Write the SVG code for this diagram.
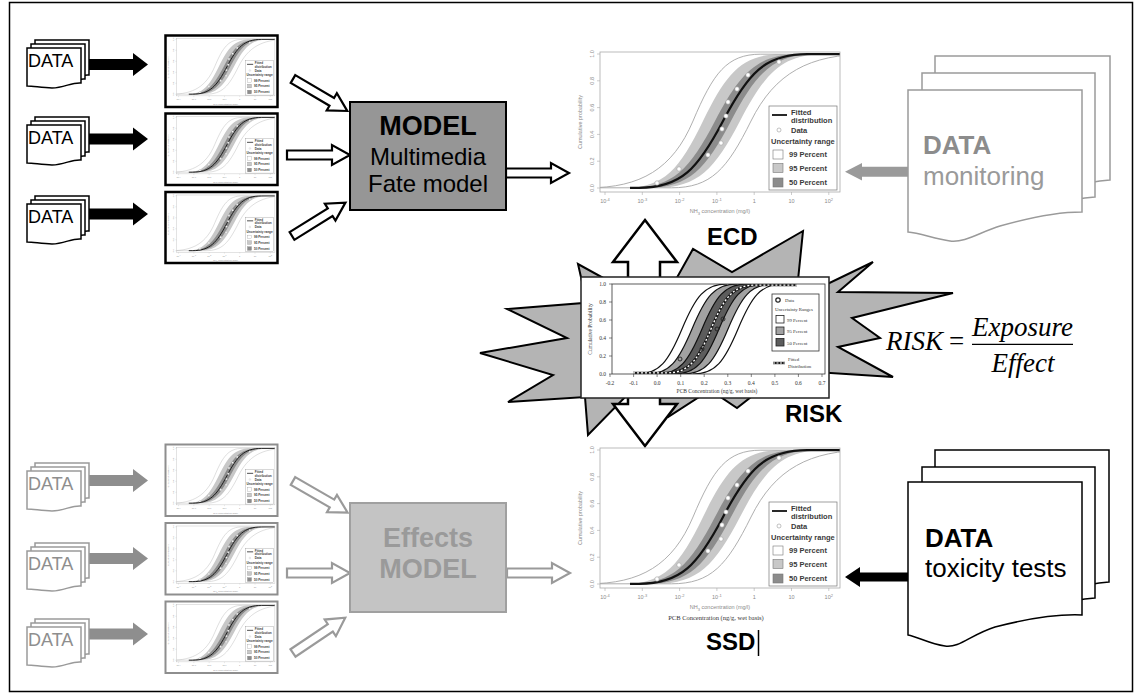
<svg xmlns="http://www.w3.org/2000/svg" width="1141" height="695" viewBox="0 0 1141 695">
<style>
.sans{font-family:"Liberation Sans",Arial,Helvetica,sans-serif}
.serif{font-family:"Liberation Serif","Times New Roman",serif}
.pg{fill:#fff;stroke:#000;stroke-width:1.5}
.pgg{fill:#fff;stroke:#9a9a9a;stroke-width:1.5}
.ax{font-family:"Liberation Sans",Arial,sans-serif;font-size:5.5px;fill:#8a8a8a}
.lg{font-family:"Liberation Sans",Arial,sans-serif;font-size:7.5px;font-weight:bold;fill:#3a3a3a}
.rs{font-family:"Liberation Serif","Times New Roman",serif;font-size:5.5px;fill:#333}
.rl{font-family:"Liberation Serif","Times New Roman",serif;font-size:4.8px;fill:#333}
.ha{fill:#fff;stroke:#000;stroke-width:2.2}
.hag{fill:#fff;stroke:#9a9a9a;stroke-width:2.2}
.fa{fill:#000}
.fag{fill:#8e8e8e}
.big{font-family:"Liberation Sans",Arial,sans-serif;font-weight:bold;font-size:24px;fill:#000}
.dt{font-family:"Liberation Sans",Arial,sans-serif;font-size:18px}
.thb{fill:#fff;stroke:#000;stroke-width:2.5}
.thg{fill:#fff;stroke:#8e8e8e;stroke-width:2}
.fm{font-family:"Liberation Serif","Times New Roman",serif;font-size:27px;fill:#000}
</style>
<defs>
<clipPath id="pc"><rect x="0" y="0" width="240" height="140"/></clipPath>
<clipPath id="rc"><rect x="0" y="0" width="213" height="90"/></clipPath>
<g id="stack">
<path d="M35,40 H89 V75 C80,74 72,80 60,80 C50,80 42,78 35,78 Z"/>
<path d="M31,44 H85 V79 C76,78 68,84 56,84 C46,84 38,82 31,82 Z"/>
<path d="M27,48 H81 V83 C72,82 64,88 52,88 C42,88 34,86 27,86 Z"/>
</g>
<polygon id="fat" points="0,-5.5 44,-5.5 44,-11.5 59,0 44,11.5 44,5.5 0,5.5"/>
<polygon id="hat" points="0,-4.5 45,-4.5 45,-10 63,0 45,10 45,4.5 0,4.5"/>
</defs>

<rect width="1141" height="695" fill="#fff"/>
<rect x="9.5" y="2.5" width="1123" height="689" fill="none" stroke="#000" stroke-width="1.5"/>

<g id="risk-burst">
<polygon points="585,295 578,264 625,290 670,290 693,249 732,272 803,231 797,290 815,290 873,262 838,292 953,293 852,318 880,338 838,347 893,377 815,372 790,390 760,390 737,408 710,390 668,417 630,392 588,435 585,397 508,402 553,375 480,353 567,338 507,309 583,303" fill="#b4b4b4" stroke="#000" stroke-width="2" stroke-linejoin="miter"/>
</g>

<g id="connectors">
<use href="#fat" class="fa" transform="translate(89,64.5)"/>
<use href="#fat" class="fa" transform="translate(89,139)"/>
<use href="#fat" class="fa" transform="translate(89,214)"/>
<use href="#fat" class="fag" transform="translate(89,480.5)"/>
<use href="#fat" class="fag" transform="translate(89,558.5)"/>
<use href="#fat" class="fag" transform="translate(89,634)"/>
<use href="#hat" class="ha" transform="translate(293,79) rotate(30.5)"/>
<use href="#hat" class="ha" transform="translate(287,155)"/>
<use href="#hat" class="ha" transform="translate(292,236) rotate(-32)"/>
<use href="#hat" class="ha" transform="translate(506,173)"/>
<use href="#hat" class="hag" transform="translate(293,481) rotate(30)"/>
<use href="#hat" class="hag" transform="translate(287,573)"/>
<use href="#hat" class="hag" transform="translate(293,653) rotate(-34)"/>
<use href="#hat" class="hag" transform="translate(507,573)"/>
<polygon points="908,166.7 862,166.7 862,163 845,171.7 862,180.5 862,176.7 908,176.7" fill="#9a9a9a"/>
<polygon points="908,572.5 860,572.5 860,567 845,577 860,587 860,581.5 908,581.5" fill="#000"/>
<polygon points="645,220 677,262 660,262 660,285 628,285 628,262 613,262" fill="#fff" stroke="#000" stroke-width="2.5"/>
<polygon points="628,390 660,390 660,404 677,404 645,446 613,404 628,404" fill="#fff" stroke="#000" stroke-width="2.5"/>
</g>

<g id="data-top-1"><use href="#stack" class="pg"/><text class="dt" x="28" y="67">DATA</text></g>
<g id="data-top-2" transform="translate(0,77)"><use href="#stack" class="pg"/><text class="dt" x="28" y="67">DATA</text></g>
<g id="data-top-3" transform="translate(0,156)"><use href="#stack" class="pg"/><text class="dt" x="28" y="67">DATA</text></g>
<g id="data-bot-1" transform="translate(0,423)"><use href="#stack" class="pgg"/><text class="dt" x="28" y="67" fill="#8e8e8e">DATA</text></g>
<g id="data-bot-2" transform="translate(0,503)"><use href="#stack" class="pgg"/><text class="dt" x="28" y="67" fill="#8e8e8e">DATA</text></g>
<g id="data-bot-3" transform="translate(0,579)"><use href="#stack" class="pgg"/><text class="dt" x="28" y="67" fill="#8e8e8e">DATA</text></g>

<g id="ecd-chart" transform="translate(600,52)">
<g id="cdf">
<rect x="0" y="0" width="240" height="140" fill="#fff"/>
<g clip-path="url(#pc)">
<path fill="#c8c8c8" d="M25,135.8 C64,135.8 79.6,117.1 103,69 C126.4,20.9 142,2.2 181,2.2 L224,2.2 C182,2.2 165.2,20.9 140,69 C114.8,117.1 98,135.8 56,135.8 Z"/>
<path fill="#8c8c8c" d="M31,135.8 C73,135.8 89.8,117.1 115,69 C140.2,20.9 157,2.2 199,2.2 L215,2.2 C173,2.2 156.2,20.9 131,69 C105.8,117.1 89,135.8 47,135.8 Z"/>
<path fill="none" stroke="#a6a6a6" stroke-width="0.9" d="M-12,135.8 C40.5,135.8 72.7,117.1 93,69 C113.3,20.9 126.9,2.2 160.8,2.2 L240,2.2"/>
<path fill="none" stroke="#a6a6a6" stroke-width="0.9" d="M0,135.8 L71.5,135.8 C111.25,135.8 127.15,117.1 151,69 C174.85,20.9 209.5,2.2 268,2.2"/>
<path fill="none" stroke="#111" stroke-width="2.2" d="M30,135.8 L39,135.8 C81,135.8 97.8,117.1 123,69 C148.2,20.9 165,2.2 207,2.2 L240,2.2"/>
</g>
<g fill="#fff" stroke="#a0a0a0" stroke-width="0.6">
<circle cx="57" cy="131" r="2.2"/><circle cx="79" cy="117" r="2.2"/><circle cx="108" cy="103" r="2.2"/><circle cx="121" cy="91" r="2.2"/><circle cx="122" cy="77" r="2.2"/><circle cx="126" cy="64" r="2.2"/><circle cx="128" cy="50" r="2.2"/><circle cx="137" cy="37" r="2.2"/><circle cx="148" cy="23" r="2.2"/><circle cx="179" cy="10" r="2.2"/>
</g>
<rect x="0" y="0" width="240" height="140" fill="none" stroke="#aaa" stroke-width="0.8"/>
<path stroke="#aaa" stroke-width="0.6" fill="none" d="M0,136h-3M0,109.2h-3M0,82.4h-3M0,55.6h-3M0,28.8h-3M0,2h-3M5,140v3M42.3,140v3M79.6,140v3M116.9,140v3M154.2,140v3M191.5,140v3M228.8,140v3"/>
<g class="ax" text-anchor="middle">
<text transform="translate(-6,136) rotate(-90)">0.0</text>
<text transform="translate(-6,109.2) rotate(-90)">0.2</text>
<text transform="translate(-6,82.4) rotate(-90)">0.4</text>
<text transform="translate(-6,55.6) rotate(-90)">0.6</text>
<text transform="translate(-6,28.8) rotate(-90)">0.8</text>
<text transform="translate(-6,2) rotate(-90)">1.0</text>
<text x="5" y="151">10<tspan dy="-2" font-size="4">-4</tspan></text>
<text x="42.3" y="151">10<tspan dy="-2" font-size="4">-3</tspan></text>
<text x="79.6" y="151">10<tspan dy="-2" font-size="4">-2</tspan></text>
<text x="116.9" y="151">10<tspan dy="-2" font-size="4">-1</tspan></text>
<text x="154.2" y="151">1</text>
<text x="191.5" y="151">10</text>
<text x="228.8" y="151">10<tspan dy="-2" font-size="4">2</tspan></text>
<text x="120" y="161">NH<tspan dy="1.5" font-size="4">3</tspan><tspan dy="-1.5"> concentration (mg/l)</tspan></text>
<text transform="translate(-18,70) rotate(-90)">Cumulative probability</text>
</g>
<rect x="169" y="54" width="68" height="84" fill="#fff" stroke="#777" stroke-width="0.7"/>
<path d="M172,63h15" stroke="#111" stroke-width="1.8"/>
<circle cx="179" cy="78" r="2" fill="#fff" stroke="#999" stroke-width="0.6"/>
<rect x="173" y="98" width="10" height="9" fill="#fff" stroke="#777" stroke-width="0.6"/>
<rect x="173" y="111.5" width="10" height="9" fill="#c8c8c8" stroke="#777" stroke-width="0.6"/>
<rect x="173" y="126" width="10" height="9" fill="#8c8c8c" stroke="#777" stroke-width="0.6"/>
<g class="lg">
<text x="191" y="63">Fitted</text>
<text x="191" y="71">distribution</text>
<text x="191" y="80.5">Data</text>
<text x="171" y="92.2">Uncertainty range</text>
<text x="189" y="105">99 Percent</text>
<text x="189" y="118.5">95 Percent</text>
<text x="189" y="133">50 Percent</text>
</g>
</g>
</g>

<g id="ssd-chart">
<use href="#cdf" transform="translate(600,448)"/>
<text class="serif" x="716" y="620" font-size="6.5" fill="#333" text-anchor="middle">PCB Concentration (ng/g, wet basis)</text>
</g>

<g id="thumb-top-1"><rect class="thb" x="165.5" y="35.5" width="112" height="71.5"/><use href="#cdf" transform="translate(176.5,38.5) scale(0.41)"/></g>
<g id="thumb-top-2"><rect class="thb" x="165.5" y="113.5" width="112" height="71.5"/><use href="#cdf" transform="translate(176.5,116.5) scale(0.41)"/></g>
<g id="thumb-top-3"><rect class="thb" x="165.5" y="192" width="112" height="71"/><use href="#cdf" transform="translate(176.5,195) scale(0.41)"/></g>
<g id="thumb-bot-1"><rect class="thg" x="165.5" y="444.5" width="112" height="71.5"/><use href="#cdf" transform="translate(176.5,447.5) scale(0.41)"/></g>
<g id="thumb-bot-2"><rect class="thg" x="165.5" y="523" width="112" height="71.5"/><use href="#cdf" transform="translate(176.5,526) scale(0.41)"/></g>
<g id="thumb-bot-3"><rect class="thg" x="165.5" y="601.5" width="112" height="71.5"/><use href="#cdf" transform="translate(176.5,604.5) scale(0.41)"/></g>

<g id="model-box">
<rect x="350" y="102" width="156" height="108" fill="#969696" stroke="#000" stroke-width="2"/>
<text class="sans" x="428" y="135" font-size="27" font-weight="bold" text-anchor="middle">MODEL</text>
<text class="sans" x="428" y="165" font-size="24" text-anchor="middle">Multimedia</text>
<text class="sans" x="428" y="192" font-size="24" text-anchor="middle">Fate model</text>
</g>

<g id="effects-box">
<rect x="350" y="503" width="156" height="109" fill="#c4c4c4" stroke="#a0a0a0" stroke-width="2"/>
<text class="sans" x="428" y="547" font-size="27" font-weight="bold" fill="#9a9a9a" text-anchor="middle">Effects</text>
<text class="sans" x="428" y="578" font-size="27" font-weight="bold" fill="#9a9a9a" text-anchor="middle">MODEL</text>
</g>

<g id="risk-chart">
<rect x="581" y="277" width="248" height="121" fill="#fff" stroke="#222" stroke-width="1.5"/>
<g transform="translate(612,284)">
<g clip-path="url(#rc)">
<path fill="#a2a2a2" d="M35,90 C57.5,90 66.5,77.3 80,45 C93.5,12.7 102.5,0 125,0 L161,0 C138.5,0 129.5,12.7 116,45 C102.5,77.3 93.5,90 71,90 Z"/>
<path fill="#5c5c5c" d="M45,90 C67.5,90 76.5,77.3 90,45 C103.5,12.7 112.5,0 135,0 L152,0 C129.5,0 120.5,12.7 107,45 C93.5,77.3 84.5,90 62,90 Z"/>
<g fill="none" stroke="#111" stroke-width="1.2">
<path d="M25,90 C47.5,90 56.5,77.3 70,45 C83.5,12.7 92.5,0 115,0"/>
<path d="M35,90 C57.5,90 66.5,77.3 80,45 C93.5,12.7 102.5,0 125,0"/>
<path d="M45,90 C67.5,90 76.5,77.3 90,45 C103.5,12.7 112.5,0 135,0"/>
<path d="M62,90 C84.5,90 93.5,77.3 107,45 C120.5,12.7 129.5,0 152,0"/>
<path d="M71,90 C93.5,90 102.5,77.3 116,45 C129.5,12.7 138.5,0 161,0"/>
<path d="M81,90 C103.5,90 112.5,77.3 126,45 C139.5,12.7 148.5,0 171,0"/>
</g>
<path fill="none" stroke="#1a1a1a" stroke-width="2.6" d="M21,89 L54,89 C76.5,89 85.5,77.3 99,45 C112.5,12.7 121.5,1 144,1 L185,1"/>
<path fill="none" stroke="#fff" stroke-width="1.4" stroke-dasharray="2 2" d="M21,89 L54,89 C76.5,89 85.5,77.3 99,45 C112.5,12.7 121.5,1 144,1 L185,1"/>
</g>
<g fill="none" stroke="#222" stroke-width="0.9">
<circle cx="68" cy="75" r="2"/><circle cx="90" cy="65" r="2"/><circle cx="105" cy="45" r="2"/><circle cx="111" cy="35" r="2"/>
</g>
<rect x="0" y="0" width="213" height="90" fill="none" stroke="#333" stroke-width="0.8"/>
<path stroke="#333" stroke-width="0.6" fill="none" d="M0,0h-3M0,18h-3M0,36h-3M0,54h-3M0,72h-3M0,90h-3M-2,90v3M21.6,90v3M45.1,90v3M68.7,90v3M92.2,90v3M115.8,90v3M139.3,90v3M162.9,90v3M186.4,90v3M210,90v3"/>
</g>
<g class="rs" text-anchor="end">
<text x="606" y="286">1.0</text><text x="606" y="304">0.8</text><text x="606" y="322">0.6</text><text x="606" y="340">0.4</text><text x="606" y="358">0.2</text><text x="606" y="376">0.0</text>
</g>
<g class="rs" text-anchor="middle">
<text x="610" y="385">-0.2</text><text x="633.6" y="385">-0.1</text><text x="657.1" y="385">0.0</text><text x="680.7" y="385">0.1</text><text x="704.2" y="385">0.2</text><text x="727.8" y="385">0.3</text><text x="751.3" y="385">0.4</text><text x="774.9" y="385">0.5</text><text x="798.4" y="385">0.6</text><text x="822" y="385">0.7</text>
<text x="717" y="393">PCB Concentration (ng/g, wet basis)</text>
<text transform="translate(592,329) rotate(-90)">Cumulative Probability</text>
</g>
<rect x="772" y="294" width="47" height="57" fill="#fff" stroke="#333" stroke-width="0.8"/>
<circle cx="778" cy="300" r="2.2" fill="#fff" stroke="#222" stroke-width="1.2"/>
<rect x="776" y="315.5" width="8" height="7.5" fill="#fff" stroke="#222" stroke-width="0.8"/>
<rect x="776" y="327" width="8" height="7.5" fill="#a2a2a2" stroke="#222" stroke-width="0.8"/>
<rect x="776" y="338.5" width="8" height="7.5" fill="#5c5c5c" stroke="#222" stroke-width="0.8"/>
<path d="M773,363h12" stroke="#1a1a1a" stroke-width="2.4"/>
<path d="M773,363h12" stroke="#fff" stroke-width="1.2" stroke-dasharray="2 1.5"/>
<g class="rl">
<text x="785" y="301.8">Data</text>
<text x="775" y="310.5">Uncertainty Ranges</text>
<text x="787" y="321.5">99 Percent</text>
<text x="787" y="333">95 Percent</text>
<text x="787" y="344.5">50 Percent</text>
<text x="788" y="361">Fitted</text>
<text x="788" y="367.5">Distribution</text>
</g>
</g>

<g id="labels">
<text class="big" x="707" y="245">ECD</text>
<text class="big" x="785" y="422">RISK</text>
<text class="big" x="706" y="650">SSD</text>
<line x1="758.5" y1="630" x2="758.5" y2="656" stroke="#000" stroke-width="1.5"/>
</g>

<g id="formula">
<text class="fm" x="886" y="350" font-style="italic">RISK</text>
<text class="fm" x="949" y="350">=</text>
<text class="fm" x="1022.5" y="336" font-style="italic" text-anchor="middle">Exposure</text>
<line x1="972" y1="344.3" x2="1073" y2="344.3" stroke="#000" stroke-width="1.2"/>
<text class="fm" x="1023" y="372" font-style="italic" text-anchor="middle">Effect</text>
</g>

<g id="data-monitoring">
<path class="pgg" d="M935,56 H1110 V180 C1080,182 1050,192 1010,205 C990,212 960,212 935,205 Z"/>
<path class="pgg" d="M922,73 H1095 V197 C1065,199 1035,209 995,222 C975,229 945,229 922,222 Z"/>
<path class="pgg" d="M908,90 H1082 V212 C1060,212 1035,216 1000,226 C980,232 965,243 950,241 C935,239 920,233 908,232 Z"/>
<text class="sans" x="923" y="154" font-size="26" font-weight="bold" fill="#8c8c8c">DATA</text>
<text class="sans" x="923" y="185" font-size="26" fill="#9a9a9a">monitoring</text>
</g>

<g id="data-toxicity">
<path class="pg" d="M935,450 H1109 V582 C1080,584 1050,594 1010,607 C990,614 960,614 935,607 Z"/>
<path class="pg" d="M922,467 H1095 V598 C1065,600 1035,610 995,623 C975,630 945,630 922,623 Z"/>
<path class="pg" d="M908,482 H1082 V615 C1060,614 1030,618 995,627 C970,635 960,648 945,646 C930,644 918,637 908,635 Z"/>
<text class="sans" x="925" y="547" font-size="26" font-weight="bold" fill="#000">DATA</text>
<text class="sans" x="925" y="577" font-size="26" fill="#000">toxicity tests</text>
</g>
</svg>
